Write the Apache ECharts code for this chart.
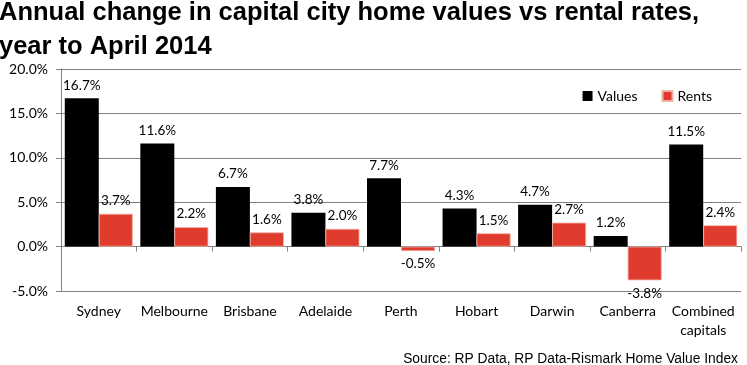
<!DOCTYPE html>
<html><head><meta charset="utf-8">
<script src="https://cdn.jsdelivr.net/npm/echarts@6/dist/echarts.min.js"></script>
<style>html,body{margin:0;padding:0;background:#fff}#c{width:747px;height:365px}</style>
</head><body><div id="c"></div>
<script>
const categories = ['Sydney','Melbourne','Brisbane','Adelaide','Perth','Hobart','Darwin','Canberra','Combined\ncapitals'];
const valuesData = [16.7,11.6,6.7,3.8,7.7,4.3,4.7,1.2,11.5];
const rentsData = [3.7,2.2,1.6,2.0,-0.5,1.5,2.7,-3.8,2.4];
const yTicks = {min:-5, max:20, interval:5};

const font = 'Lato, "Open Sans", sans-serif';
function mk(arr){
  return arr.map(v => ({value:v, label:{position: v < 0 ? 'bottom' : 'top'}}));
}
const chart = echarts.init(document.getElementById('c'), null, {renderer:'canvas'});
chart.setOption({
  animation:false,
  backgroundColor:'#fff',
  title:[{
    text:'Annual change in capital city home values vs rental rates,\nyear to April 2014',
    left:-1, top:-4, padding:[0,0,0,0],
    textStyle:{fontFamily:'"Liberation Sans", Arial, sans-serif', fontWeight:'bold', fontSize:25.5, color:'#000', lineHeight:34}
  },{
    text:'Source: RP Data, RP Data-Rismark Home Value Index',
    right:4, top:347,
    textStyle:{fontFamily:'"Liberation Sans", Arial, sans-serif', fontWeight:'normal', fontSize:13.8, color:'#000'}
  }],
  legend:{
    data:['Values','Rents'], right:30, top:84, itemWidth:10, itemHeight:10, itemGap:24,
    icon:'rect',
    textStyle:{fontFamily:font, fontSize:14, color:'#000'}
  },
  grid:{left:61, right:6, top:69, bottom:74},
  xAxis:[{
    type:'category', data:categories,
    axisLine:{onZero:true, lineStyle:{color:'#808080'}},
    axisTick:{show:true, length:5, lineStyle:{color:'#808080'}},
    axisLabel:{show:false}
  },{
    type:'category', data:categories, position:'bottom',
    axisLine:{show:false, onZero:false}, axisTick:{show:false},
    axisLabel:{interval:0, fontFamily:font, fontSize:14, color:'#000', margin:11, lineHeight:19}
  }],
  yAxis:{
    type:'value', min:yTicks.min, max:yTicks.max, interval:yTicks.interval,
    axisLine:{show:true, lineStyle:{color:'#808080'}},
    axisTick:{show:true, length:5, lineStyle:{color:'#808080'}},
    splitLine:{lineStyle:{color:'#808080'}},
    axisLabel:{formatter:v=>v.toFixed(1)+'%', fontFamily:font, fontSize:14, color:'#000', margin:13}
  },
  series:[{
    name:'Values', type:'bar', data:mk(valuesData), barGap:'0%', barCategoryGap:'10%',
    itemStyle:{color:'#000'},
    label:{show:true, formatter:p=>p.value.toFixed(1)+'%', fontFamily:font, fontSize:13.5, color:'#000', distance:6}
  },{
    name:'Rents', type:'bar', data:mk(rentsData),
    itemStyle:{color:'#E03C2D', borderColor:'#F3B0A8', borderWidth:0.8},
    label:{show:true, formatter:p=>p.value.toFixed(1)+'%', fontFamily:font, fontSize:13.5, color:'#000', distance:6}
  }]
});
</script></body></html>
